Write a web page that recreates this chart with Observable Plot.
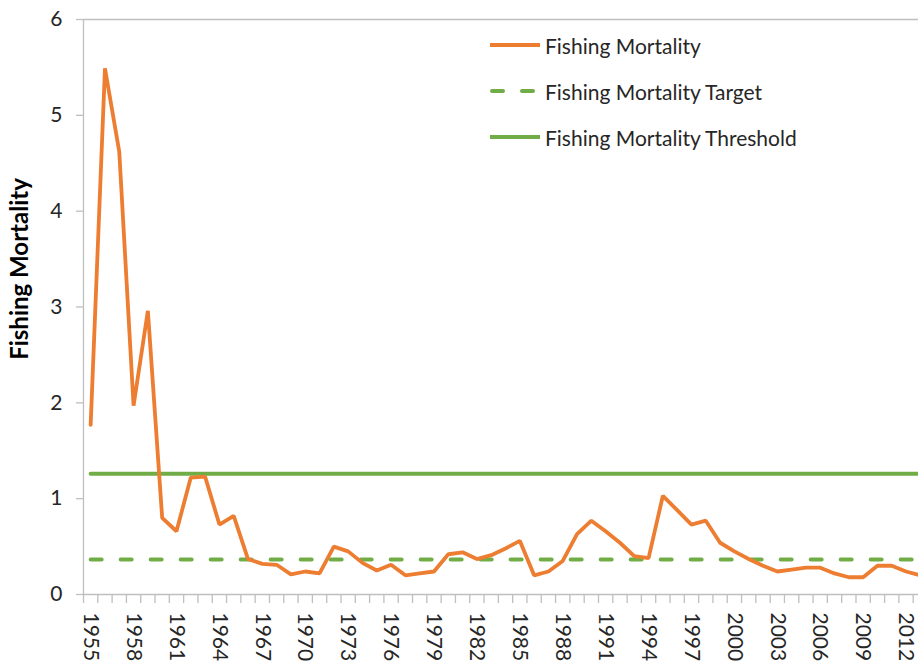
<!DOCTYPE html>
<html>
<head>
<meta charset="utf-8">
<script src="https://cdn.jsdelivr.net/npm/d3@7"></script>
<script src="https://cdn.jsdelivr.net/npm/@observablehq/plot@0.6"></script>
<style>
  html, body { margin: 0; padding: 0; background: #fff; }
  #wrap { position: relative; width: 918px; height: 665px; font-family: Lato, "Open Sans", sans-serif; }
  #legend { position: absolute; left: 490px; top: 22px; }
  .row { display: flex; align-items: center; height: 46px; font-size: 21px; color: #262626; }
  .row svg { width: 50px; height: 10px; margin-right: 5px; overflow: visible; }
</style>
</head>
<body>
<div id="wrap"></div>
<script>
const years = [1955,1956,1957,1958,1959,1960,1961,1962,1963,1964,1965,1966,1967,1968,1969,1970,1971,1972,1973,1974,1975,1976,1977,1978,1979,1980,1981,1982,1983,1984,1985,1986,1987,1988,1989,1990,1991,1992,1993,1994,1995,1996,1997,1998,1999,2000,2001,2002,2003,2004,2005,2006,2007,2008,2009,2010,2011,2012,2013];
const fishingMortality = [1.77,5.49,4.62,1.97,2.96,0.80,0.66,1.22,1.23,0.73,0.82,0.37,0.32,0.31,0.21,0.24,0.22,0.50,0.45,0.33,0.25,0.31,0.20,0.22,0.24,0.42,0.44,0.37,0.41,0.48,0.56,0.20,0.24,0.35,0.63,0.77,0.66,0.54,0.40,0.38,1.03,0.88,0.73,0.77,0.54,0.45,0.37,0.30,0.24,0.26,0.28,0.28,0.22,0.18,0.18,0.30,0.30,0.24,0.20];
const targetValue = 0.365;
const thresholdValue = 1.26;
const tickYears = [1955,1958,1961,1964,1967,1970,1973,1976,1979,1982,1985,1988,1991,1994,1997,2000,2003,2006,2009,2012];
const yTicks = [0,1,2,3,4,5,6];
const seriesNames = ["Fishing Mortality","Fishing Mortality Target","Fishing Mortality Threshold"];
const yTitle = "Fishing Mortality";

const orange = "#ED7D31", green = "#70AD47", axisGray = "#BFBFBF", textColor = "#262626";

const rows = years.map((y, i) => ({year: y, f: fishingMortality[i], target: targetValue, threshold: thresholdValue}));
const boundaries = years.map(y => y - 0.5).concat([years[years.length - 1] + 0.5]);
const xStart = years[0] - 0.5;

const chart = Plot.plot({
  width: 918,
  height: 665,
  marginLeft: 83,
  marginRight: 0,
  marginTop: 19,
  marginBottom: 71,
  style: {fontFamily: "Lato, 'Open Sans', sans-serif", color: textColor, background: "#fff"},
  x: {domain: [xStart, 2012.87], label: null},
  y: {domain: [0, 6], label: null},
  marks: [
    Plot.ruleY([6], {stroke: axisGray, strokeWidth: 1.3}),
    Plot.ruleY([0], {stroke: axisGray, strokeWidth: 1.3}),
    Plot.ruleX([xStart], {stroke: axisGray, strokeWidth: 1.3}),
    Plot.axisY({ticks: yTicks, tickSize: 7, tickPadding: 14, tickFormat: d => String(d), fontSize: 21, stroke: axisGray, strokeWidth: 1.3, fill: textColor, label: null}),
    Plot.axisX({ticks: boundaries, tickSize: 9, tickFormat: () => "", stroke: axisGray, strokeWidth: 1.3, label: null}),
    Plot.axisX({ticks: tickYears, tickSize: 0, tickPadding: 18, tickRotate: 90, tickFormat: d => String(d), fontSize: 21, fill: textColor, label: null}),
    Plot.line(rows, {x: "year", y: "threshold", stroke: green, strokeWidth: 4, clip: true}),
    Plot.line(rows, {x: "year", y: "target", stroke: green, strokeWidth: 4, strokeDasharray: "11,19", strokeLinecap: "round", clip: true}),
    Plot.line(rows, {x: "year", y: "f", stroke: orange, strokeWidth: 3.8, strokeLinejoin: "miter", clip: true}),
    Plot.text([yTitle], {frameAnchor: "left", textAnchor: "middle", rotate: -90, dx: -63, dy: -38, fontWeight: "bold", fontSize: 24, fill: "#000"})
  ]
});

const wrap = document.getElementById("wrap");
wrap.appendChild(chart);

const legend = document.createElement("div");
legend.id = "legend";
const swatches = [
  `<line x1="0" y1="5" x2="50" y2="5" stroke="${orange}" stroke-width="4"/>`,
  `<line x1="2" y1="5" x2="50" y2="5" stroke="${green}" stroke-width="4" stroke-dasharray="11,19" stroke-linecap="round"/>`,
  `<line x1="0" y1="5" x2="50" y2="5" stroke="${green}" stroke-width="4"/>`
];
seriesNames.forEach((name, i) => {
  const row = document.createElement("div");
  row.className = "row";
  row.innerHTML = `<svg viewBox="0 0 50 10">${swatches[i]}</svg><span>${name}</span>`;
  legend.appendChild(row);
});
wrap.appendChild(legend);
</script>
</body>
</html>
